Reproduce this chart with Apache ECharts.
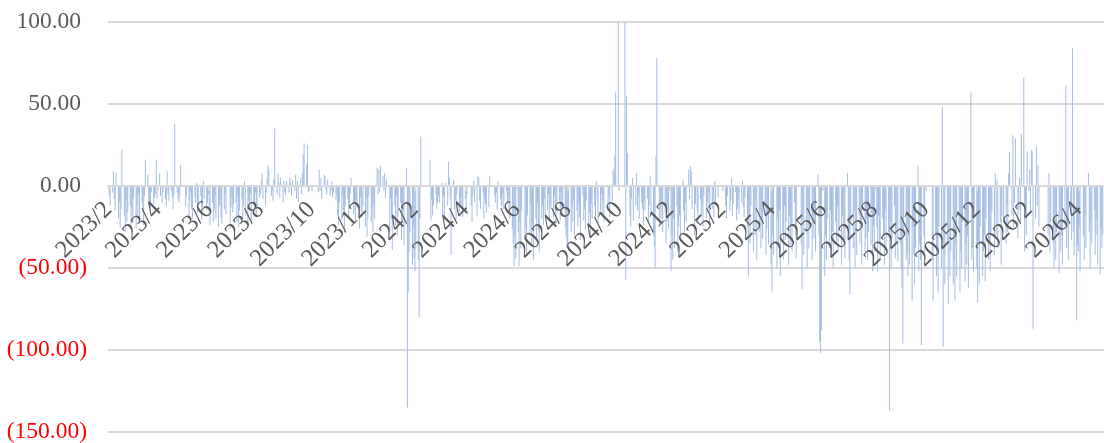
<!DOCTYPE html>
<html lang="zh">
<head>
    <meta charset="UTF-8">
    <title>Daily bars</title>
    <script src="https://cdn.jsdelivr.net/npm/echarts@6/dist/echarts.min.js"></script>
    <style>
        html, body { margin: 0; padding: 0; background: #fff; }
    </style>
</head>
<body>
    <div id="main" style="width: 1104px;height:443px;"></div>
    <script type="text/javascript">
        // one array per month, values go onto that month's weekdays in order (null = market closed)
        var feb23 = [-3, -6, -12, -4, 9, -8, -15, 8, -20, -10, -25, -14, 22, -18, -28, -9, -22, -16, -12, -24];
        var mar23 = [-14, -22, -8, -26, -12, -18, -5, -20, -10, -16, -24, -6, 16, 7, -12, -9, -15, -4, -11, -7, -5, 16, -8];
        var apr23 = [8, -6, null, -10, -4, -8, -12, 9, -5, -9, -3, -7, -14, -6, 38, -4, -8, -10, -6, 13];
        var may23 = [null, null, null, -12, -6, -18, -9, -4, -14, -20, -7, -10, 2, -16, -11, -6, -21, -13, 3, -8, -15, -10, -5];
        var jun23 = [-18, -24, -10, -22, -15, -6, -20, -25, -12, -8, -19, -23, -14, -5, -17, null, null, -26, -13, -7, -16, -11];
        var jul23 = [-10, -22, -6, -25, -15, -8, -20, -12, 3, -18, -24, -9, -14, -5, -21, -11, -16, -4, -19, -13, -7];
        var aug23 = [-5, 3, 8, -8, -12, -4, 5, 13, 10, -6, -3, -9, 4, 35, -5, 8, 2, -7, 5, -10, 3, -4, -6];
        var sep23 = [3, -4, 5, 2, -6, 4, -3, 7, -8, 3, -10, 5, -5, 8, 19, 26, 13, 25, -4, -3, null];
        var oct23 = [null, null, null, null, null, -4, 10, -3, 5, -8, 7, 6, -2, -5, 4, -6, -3, 3, -7, -4, -9, -5];
        var nov23 = [-18, -24, -10, -21, -6, -15, -28, -12, -8, -20, -14, -5, 5, -17, -11, -22, -9, -13, -26, -7, -16, -19];
        var dec23 = [-12, -25, -8, -31, -18, -6, -22, -14, -28, -10, -20, 11, -5, 10, -4, 12, 6, -3, 8, -7, 4];
        var jan24 = [null, -27, -8, -20, -39, -12, -24, -6, -30, -18, -10, -33, -22, -14, -36, 11, -135, -65, -40, -28, -48, -25, -44];
        var feb24 = [-52, -38, -45, -80, -20, 30, null, null, null, null, null, null, 16, -21, -8, -18, -12, -5, -14, -10, -6];
        var mar24 = [-10, 2, -18, -6, -21, 2, -12, 15, 5, -8, -42, 4, -14, -9, -20, -5, -16, -11, -7, -13, -19];
        var apr24 = [-8, -15, -5, null, null, -12, -22, -6, 3, -10, -18, 6, 5, -9, -14, -4, -20, -7, -11, -16, -13, 6];
        var may24 = [null, null, null, -6, -10, -4, -15, 3, -8, -12, -5, -14, -9, -3, -11, -7, -16, -20, -26, -35, -49, -30, -44];
        var jun24 = [-28, -49, -22, -38, -15, null, -33, -25, -42, -18, -30, -12, -36, -24, -45, -20, -32, -10, -27, -40];
        var jul24 = [-20, -12, -24, -8, -18, -15, -5, -22, -10, -14, -19, -6, -16, -23, -11, -9, -21, -4, -17, -13, -25, -30, -38];
        var aug24 = [-35, -18, -28, -12, -22, -8, -30, -15, -25, -10, -19, -33, -6, -21, -14, -27, -9, -24, -16, -31, -11, -20];
        var sep24 = [-12, -20, 3, -8, -23, -15, -5, -18, -10, -22, null, null, -14, -6, -19, -9, 10, 8, 18, 57, 110];
        var oct24 = [null, null, null, null, null, 105, -57, 55, 20, -18, -25, -8, 5, -21, -12, 8, -15, -6, -20, -10, -14, -24, -9];
        var nov24 = [-15, -8, -22, -12, 6, -18, -30, -37, -50, 18, 78, -25, -14, -20, -10, -28, -16, -35, -22, -12, -26];
        var dec24 = [-52, -30, -45, -20, -38, -12, -40, -25, -18, -33, 4, -15, -28, -10, -22, 10, -8, 12, 9, -14, -30, -11];
        var jan25 = [null, -15, -23, -8, -18, -12, -25, -6, -20, -10, -16, -4, -22, -14, -9, -19, 3, -11, -7, null, null, null, null];
        var feb25 = [null, null, -12, -20, -6, -15, -9, 5, -18, -11, -4, -21, -14, -8, -17, -10, 4, -13, -19, -7];
        var mar25 = [-25, -55, -18, -35, -12, -40, -22, -30, -8, -45, -28, -15, -38, -20, -32, -10, -42, -26, -18, -35, -48];
        var apr25 = [-65, -30, -42, null, -50, -20, -38, -15, -55, -28, -45, -12, -33, -22, -48, -18, -36, -25, -40, -10, -30, -44];
        var may25 = [null, null, null, -35, -63, -20, -42, -28, -50, -15, -38, -25, -45, -18, -32, -22, -40, 7, -30, -95, -102, -88];
        var jun25 = [null, -55, -30, -45, -20, -38, -15, -42, -28, -50, -22, -35, -12, -40, -25, -48, -18, -32, -26, -44, 8];
        var jul25 = [-30, -45, -66, -22, -38, -15, -50, -28, -42, -18, -35, -25, -48, -12, -40, -32, -20, -45, -28, -36, -16, -52, -24];
        var aug25 = [-40, -25, -52, -18, -35, -45, -20, -30, -48, -15, -38, -28, -137, -22, -50, -32, -12, -44, -26, -36, -46];
        var sep25 = [-35, -50, -62, -96, -28, -45, -40, -55, -30, -48, -70, -25, -42, -60, -38, 12, -52, -35, -45, -97, -30, -40];
        var oct25 = [null, null, null, null, null, null, -45, -70, -30, -55, -38, -65, -25, -50, 48, -98, -42, -60, -35, -72, -28, -55, -40];
        var nov25 = [-60, -45, -70, -35, -55, -28, -65, -40, -50, -22, -58, -35, -48, -30, -62, 57, -45, -38, -52, -20];
        var dec25 = [-50, -71, -35, -60, -25, -55, -40, -30, -58, -20, -45, -35, -52, -28, -15, -42, 8, -30, 4, -38, -22, -48, -18];
        var jan26 = [null, -20, -35, -12, -28, 8, 21, -18, 31, -25, -10, 29, -32, -15, 5, -22, 32, 66, -40, -18, -30, 21];
        var feb26 = [10, -15, 22, 21, -87, -20, 24, -12, 13, -25, null, null, null, null, null, null, -30, 8, -40, -22];
        var mar26 = [-35, -50, -20, -45, -28, -53, -15, -40, -30, -48, -22, 61, -38, -25, -45, -18, -33, 84, -28, -42, -82, -36];
        var apr26 = [-40, -25, -52, null, -30, -45, -18, -38, 8, -28, -50, -22, -35, -15, -42, -30, -20, -48, -54, -26, -38, -30];

        var months = [
            ['2023-02', feb23], ['2023-03', mar23], ['2023-04', apr23], ['2023-05', may23], ['2023-06', jun23],
            ['2023-07', jul23], ['2023-08', aug23], ['2023-09', sep23], ['2023-10', oct23], ['2023-11', nov23],
            ['2023-12', dec23], ['2024-01', jan24], ['2024-02', feb24], ['2024-03', mar24], ['2024-04', apr24],
            ['2024-05', may24], ['2024-06', jun24], ['2024-07', jul24], ['2024-08', aug24], ['2024-09', sep24],
            ['2024-10', oct24], ['2024-11', nov24], ['2024-12', dec24], ['2025-01', jan25], ['2025-02', feb25],
            ['2025-03', mar25], ['2025-04', apr25], ['2025-05', may25], ['2025-06', jun25], ['2025-07', jul25],
            ['2025-08', aug25], ['2025-09', sep25], ['2025-10', oct25], ['2025-11', nov25], ['2025-12', dec25],
            ['2026-01', jan26], ['2026-02', feb26], ['2026-03', mar26], ['2026-04', apr26]
        ];

        var startDate = Date.UTC(2023, 1, 1);
        var dayCount = 1186;   // 2023-02-01 .. 2026-05-01, one category per calendar day
        var font = 'Liberation Serif';

        function pad(n) { return n < 10 ? '0' + n : '' + n; }
        function key(d) { return d.getUTCFullYear() + '-' + pad(d.getUTCMonth() + 1) + '-' + pad(d.getUTCDate()); }

        // put each month's values on its weekdays
        var byDate = {};
        months.forEach(function (m) {
            var parts = m[0].split('-');
            var y = +parts[0], mo = +parts[1] - 1;
            var d = new Date(Date.UTC(y, mo, 1));
            var i = 0;
            while (d.getUTCMonth() === mo) {
                var wd = d.getUTCDay();
                if (wd !== 0 && wd !== 6) {
                    if (i < m[1].length) byDate[key(d)] = m[1][i];
                    i++;
                }
                d = new Date(d.getTime() + 86400000);
            }
        });

        var categories = [], values = [];
        for (var k = 0; k < dayCount; k++) {
            var dd = new Date(startDate + k * 86400000);
            var kk = key(dd);
            categories.push(kk);
            values.push(byDate[kk] === undefined ? null : byDate[kk]);
        }

        function isTick(idx, val) {
            var p = val.split('-');
            return p[2] === '01' && (+p[1]) % 2 === 0;
        }

        var myChart = echarts.init(document.getElementById('main'));

        var option = {
            animation: false,
            grid: { left: 108, right: 0, top: 22, bottom: 11, containLabel: false, outerBoundsMode: 'none' },
            xAxis: {
                type: 'category',
                data: categories,
                zlevel: 1,   // labels drawn over the bars
                // axis sits on the zero line: pushed up from the grid bottom by 246px
                offset: -246,
                axisLine: { onZero: false, lineStyle: { color: '#d9d9d9', width: 2 } },
                axisTick: { show: true, interval: isTick, alignWithLabel: true, length: 5, lineStyle: { color: '#d9d9d9', width: 2 } },
                axisLabel: {
                    interval: isTick,
                    rotate: 45,
                    margin: 20,
                    color: '#595959',
                    fontFamily: font,
                    fontSize: 24.5,
                    formatter: function (v) {
                        var p = v.split('-');
                        return p[0] + '/' + (+p[1]);
                    }
                },
                splitLine: { show: false }
            },
            yAxis: {
                type: 'value',
                min: -150,
                max: 100,
                interval: 50,
                axisLine: { show: false },
                axisTick: { show: false },
                splitLine: { lineStyle: { color: '#d9d9d9', width: 2 } },
                axisLabel: {
                    margin: 21,
                    formatter: function (v) {
                        if (v < 0) return '{n|(' + (-v).toFixed(2) + ')}';
                        return '{p|' + v.toFixed(2) + '}';
                    },
                    rich: {
                        p: { color: '#595959', fontFamily: font, fontSize: 23.5, padding: [0, 6, 0, 0] },
                        n: { color: '#ff0000', fontFamily: font, fontSize: 23.5 }
                    }
                }
            },
            series: [{
                type: 'bar',
                data: values,
                barWidth: 1,
                clip: true,
                itemStyle: { color: '#a3bde2' }
            }]
        };

        myChart.setOption(option);
    </script>
</body>
</html>
